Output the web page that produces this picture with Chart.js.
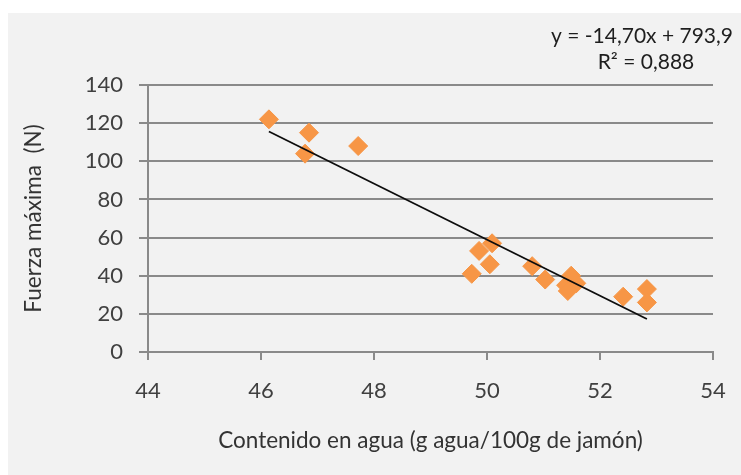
<!DOCTYPE html>
<html>
<head>
<meta charset="utf-8">
<script src="https://cdn.jsdelivr.net/npm/chart.js@4"></script>
<style>
  html, body { margin: 0; padding: 0; background: #ffffff; }
  #wrap { width: 741px; height: 475px; position: relative; }
  canvas { display: block; }
</style>
</head>
<body>
<div id="wrap"><canvas id="c" width="741" height="475"></canvas></div>
<script>
// Data
const waterContent = [46.14, 46.85, 46.78, 47.72, 49.73, 49.86, 50.09, 50.05, 50.80, 51.03, 51.49, 51.40, 51.58, 51.43, 52.41, 52.83, 52.83];
const maxForce     = [122,   115,   104,   108,   41,    53,    57,    46,    45,    38,    40,    35,    36,    32,    29,    33,    26];
const trendX = [46.14, 52.83];
const trendY = [115.6, 17.3];
const xTicks = [44, 46, 48, 50, 52, 54];
const yTicks = [0, 20, 40, 60, 80, 100, 120, 140];
const equationText = "y = -14,70x + 793,9";
const r2Text = "R² = 0,888";
const xTitle = "Contenido en agua (g agua/100g de jamón)";
const yTitle = "Fuerza máxima  (N)";

const FONT = "Lato";
const pointsData = waterContent.map((x, i) => ({ x: x, y: maxForce[i] }));
const trendData = trendX.map((x, i) => ({ x: x, y: trendY[i] }));

const bgPlugin = {
  id: 'bg',
  beforeDraw(chart) {
    const ctx = chart.ctx;
    ctx.save();
    ctx.fillStyle = '#ffffff';
    ctx.fillRect(0, 0, chart.width, chart.height);
    ctx.fillStyle = '#f2f2f2';
    ctx.fillRect(8, 13, chart.width - 8, chart.height - 13);
    ctx.restore();
  }
};

const eqPlugin = {
  id: 'eq',
  afterDraw(chart) {
    const ctx = chart.ctx;
    ctx.save();
    ctx.fillStyle = '#1e1e1e';
    ctx.font = '21px ' + FONT;
    ctx.textAlign = 'center';
    ctx.textBaseline = 'middle';
    ctx.fillText(equationText, 642, 36);
    ctx.fillText(r2Text, 646, 62);
    ctx.restore();
  }
};

new Chart(document.getElementById('c'), {
  type: 'scatter',
  data: {
    datasets: [
      {
        label: 'Tendencia',
        data: trendData,
        showLine: true,
        borderColor: '#0d0d0d',
        borderWidth: 1.8,
        pointRadius: 0,
        fill: false,
        order: 0
      },
      {
        label: 'Fuerza máxima',
        data: pointsData,
        pointStyle: 'rectRot',
        pointRadius: 9.5,
        pointHoverRadius: 9.5,
        backgroundColor: '#F79646',
        borderColor: '#F79646',
        borderWidth: 1,
        order: 1
      }
    ]
  },
  options: {
    responsive: false,
    animation: false,
    devicePixelRatio: 1,
    layout: { padding: { left: 8, top: 85, right: 28, bottom: 0 } },
    plugins: {
      legend: { display: false },
      tooltip: { enabled: false }
    },
    scales: {
      x: {
        type: 'linear',
        min: xTicks[0],
        max: xTicks[xTicks.length - 1],
        afterBuildTicks(scale) { scale.ticks = xTicks.map(v => ({ value: v })); },
        afterFit(scale) { scale.height = 123; scale.paddingLeft = 0; scale.paddingRight = 0; },
        ticks: {
          color: '#404040',
          font: { family: FONT, size: 22 },
          padding: 18,
          maxRotation: 0
        },
        grid: {
          drawOnChartArea: false,
          drawTicks: true,
          tickLength: 8,
          color: '#8a8a8a',
          lineWidth: 2
        },
        border: { display: true, color: '#8a8a8a', width: 2 },
        title: {
          display: true,
          text: xTitle,
          color: '#333333',
          font: { family: FONT, size: 22.5 },
          padding: { top: 0, bottom: 21 }
        }
      },
      y: {
        type: 'linear',
        min: yTicks[0],
        max: yTicks[yTicks.length - 1],
        afterBuildTicks(scale) { scale.ticks = yTicks.map(v => ({ value: v })); },
        afterFit(scale) { scale.width = 140; scale.paddingTop = 0; scale.paddingBottom = 0; },
        ticks: {
          color: '#404040',
          font: { family: FONT, size: 22 },
          padding: 16
        },
        grid: {
          drawOnChartArea: true,
          drawTicks: true,
          tickLength: 9,
          color: '#8a8a8a',
          lineWidth: 2
        },
        border: { display: true, color: '#8a8a8a', width: 2 },
        title: {
          display: true,
          text: yTitle,
          color: '#333333',
          font: { family: FONT, size: 22.5 },
          padding: { top: 12, bottom: 0 }
        }
      }
    }
  },
  plugins: [bgPlugin, eqPlugin]
});
</script>
</body>
</html>
